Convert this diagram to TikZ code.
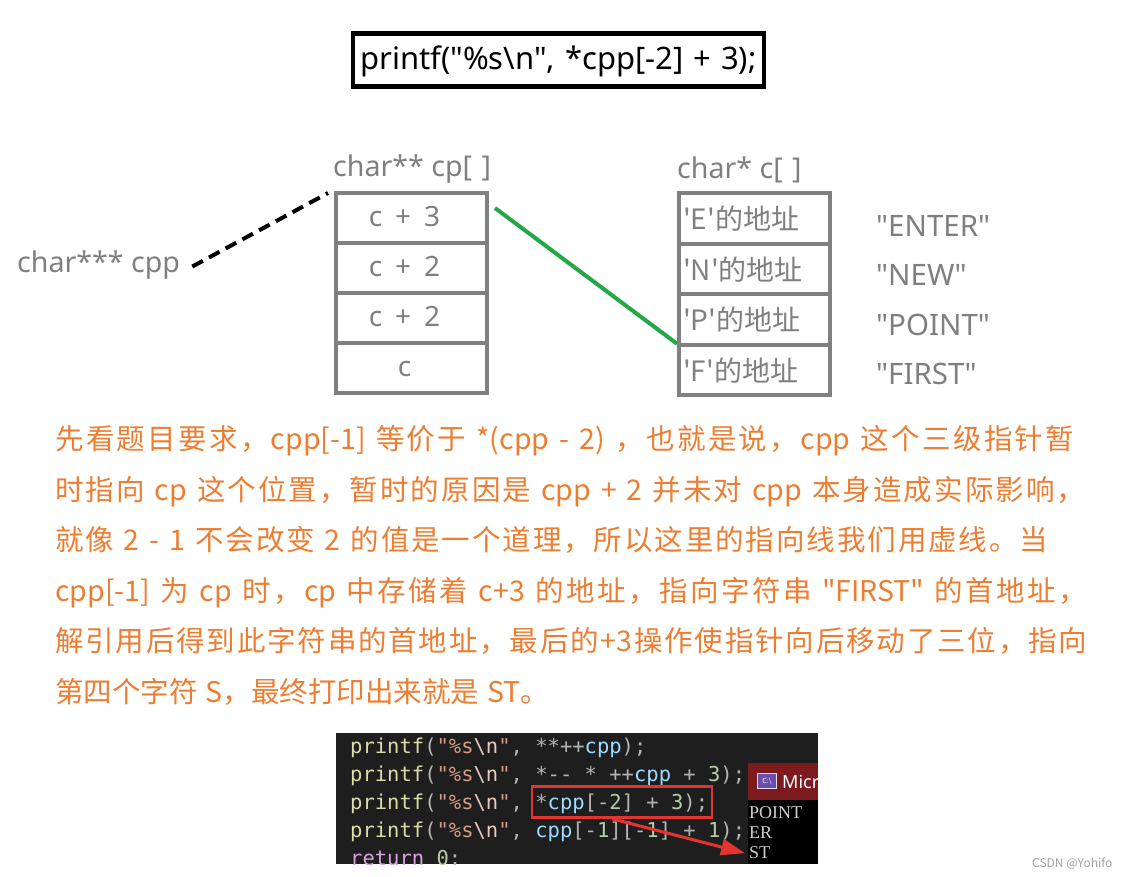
\documentclass[tikz,border=0pt]{standalone}
\usepackage{fontspec}
\newfontfamily\yh{Noto Sans CJK SC}[Ligatures=TeXOff]
\newfontfamily\la{Noto Sans}[Ligatures=TeXOff]
\newfontfamily\cmono{DejaVu Sans Mono}[Ligatures=TeXOff]
\newfontfamily\cserif{Liberation Serif}[Ligatures=TeXOff]
\usetikzlibrary{arrows.meta}
\definecolor{lbl}{HTML}{7F7F7F}
\definecolor{cellb}{HTML}{808080}
\definecolor{orng}{HTML}{ED7D31}
\definecolor{grn}{HTML}{22A846}
\definecolor{codebg}{HTML}{1E1E1E}
\definecolor{cfn}{HTML}{DCDCAA}
\definecolor{cop}{HTML}{B4B4B4}
\definecolor{cstr}{HTML}{D69D85}
\definecolor{cesc}{HTML}{E8C9BB}
\definecolor{cvar}{HTML}{9CDCFE}
\definecolor{cnum}{HTML}{B5CEA8}
\definecolor{ckw}{HTML}{D8A0DF}
\definecolor{hired}{HTML}{E3342F}
\definecolor{conred}{HTML}{7D1A1F}
\definecolor{conicon}{HTML}{6A4FA8}
\definecolor{contxt}{HTML}{CCCCCC}
\definecolor{wm}{HTML}{A0A0A0}
\newcommand\Fn[1]{\textcolor{cfn}{#1}}
\newcommand\Op[1]{\textcolor{cop}{#1}}
\newcommand\St[1]{\textcolor{cstr}{#1}}
\newcommand\Es[1]{\textcolor{cesc}{#1}}
\newcommand\Va[1]{\textcolor{cvar}{#1}}
\newcommand\Nu[1]{\textcolor{cnum}{#1}}
\newcommand\Kw[1]{\textcolor{ckw}{#1}}
\newcommand\Pf{\Fn{printf}\Op{(}\St{"\%s}\Es{\textbackslash n}\St{"}}
\newcommand\gp{\hspace{2pt}}
% inter-character stretch for justified CJK lines
\newXeTeXintercharclass\myCJK
\newXeTeXintercharclass\myPunct
\makeatletter
\count@="4E00
\loop
  \XeTeXcharclass\count@=\myCJK
  \advance\count@ by 1
\ifnum\count@<"A000 \repeat
\makeatother
\XeTeXcharclass"3002=\myPunct
\XeTeXcharclass"FF0C=\myPunct
\XeTeXinterchartoks\myCJK\myCJK = {\hskip 0pt plus 1fil\relax}
\XeTeXinterchartoks\myCJK\myPunct = {\hskip 0pt plus 1fil\relax}
\XeTeXinterchartoks\myPunct\myCJK = {\hskip 0pt plus 1fil\relax}
\XeTeXinterchartoks 0 \myCJK = {\hskip 0pt plus 1fil\relax}
\XeTeXinterchartoks\myCJK 0 = {\hskip 0pt plus 1fil\relax}
\XeTeXinterchartoks\myPunct 0 = {\hskip 0pt plus 1fil\relax}
\XeTeXinterchartoks 0 \myPunct = {\hskip 0pt plus 1fil\relax}
\newcommand\jline[2]{\hbox to #1{\spaceskip=8pt plus 1fil\relax\XeTeXinterchartokenstate=1 #2\XeTeXinterchartokenstate=0 }}
\newcommand\nline[1]{\hbox{\spaceskip=8pt\relax\XeTeXinterchartokenstate=0 #1}}
\tikzset{
  x=1pt, y=-1pt,
  lbltxt/.style={font=\la\fontsize{28.6}{32}\selectfont, text=lbl, inner sep=0pt, anchor=base west},
  strtxt/.style={font=\la\fontsize{29.5}{32}\selectfont, text=lbl, inner sep=0pt, anchor=base west},
  cpcell/.style={draw=cellb, line width=4pt, minimum width=151pt, minimum height=50pt,
    inner sep=0pt, font=\la\fontsize{28}{32}\selectfont, text=lbl, text height=20pt, text depth=4pt},
  ccell/.style={draw=cellb, line width=4pt, minimum width=151pt, minimum height=50.5pt,
    inner sep=0pt, font=\yh\fontsize{28}{32}\selectfont, text=lbl, text height=24pt, text depth=2pt,
    text width=143pt, align=left},
  para/.style={font=\yh\fontsize{28.5}{32}\selectfont, text=orng, inner sep=0pt, anchor=base west},
  codeln/.style={font=\cmono\fontsize{20.5}{24}\selectfont, inner sep=0pt, anchor=base west},
  conln/.style={font=\cserif\fontsize{18}{20}\selectfont, text=contxt, inner sep=0pt, anchor=base west},
}
\begin{document}
\begin{tikzpicture}
\useasboundingbox (0,0) rectangle (1124,876);
% top formula box
\node[draw=black, line width=4.5pt, minimum width=411pt, minimum height=53pt, inner sep=0pt,
  font=\la\fontsize{31}{32}\selectfont, text height=21pt, text depth=3pt] (formula) at (558.5,60)
  {printf("\%s\textbackslash n",\gp{} *cpp[-2]\gp{} +\gp{} 3);};
% labels
\node[lbltxt] (cplbl) at (333,176) {char** cp[\gp{} ]};
\node[lbltxt] (clbl) at (677,178) {char* c[\gp{} ]};
\node[lbltxt] (cpp) at (17,272) {char*** cpp};
% cp array
\node[cpcell] (cp1) at (411.5,218) {c\hspace{13pt}+\hspace{13pt}3\hspace*{14pt}};
\node[cpcell] (cp2) at (411.5,268) {c\hspace{13pt}+\hspace{13pt}2\hspace*{14pt}};
\node[cpcell] (cp3) at (411.5,318) {c\hspace{13pt}+\hspace{13pt}2\hspace*{14pt}};
\node[cpcell] (cp4) at (411.5,368) {c\hspace*{14pt}};
% c array
\node[ccell] (c1) at (754.5,218.5) {'E'的地址};
\node[ccell] (c2) at (754.5,269) {'N'的地址};
\node[ccell] (c3) at (754.5,319.5) {'P'的地址};
\node[ccell] (c4) at (754.5,370) {'F'的地址};
% strings
\node[strtxt] (s1) at (876,236) {"ENTER"};
\node[strtxt] (s2) at (876,285) {"NEW"};
\node[strtxt] (s3) at (876,335) {"POINT"};
\node[strtxt] (s4) at (876,384) {"FIRST"};
% connectors
\draw[line width=4pt, dash pattern=on 12pt off 7pt] ([xshift=12pt,yshift=-2pt]cpp.east) -- ([xshift=-6pt,yshift=-2pt]cp1.north west);
\draw[grn, line width=4pt] ([xshift=6pt,yshift=10pt]cp1.east) -- ([yshift=-1pt]c4.north west);
% paragraph
\node[para] (p1) at (55,449) {\jline{1019pt}{先看题目要求，cpp[-1] 等价于 *(cpp - 2) ，也就是说，cpp 这个三级指针暂}};
\node[para] (p2) at (55,500) {\jline{1030pt}{时指向 cp 这个位置，暂时的原因是 cpp + 2 并未对 cpp 本身造成实际影响，}};
\node[para] (p3) at (55,550) {\jline{993pt}{就像 2 - 1 不会改变 2 的值是一个道理，所以这里的指向线我们用虚线。当}};
\node[para] (p4) at (55,601) {\jline{1032pt}{cpp[-1] 为 cp 时，cp 中存储着 c+3 的地址，指向字符串 "FIRST" 的首地址，}};
\node[para] (p5) at (55,651) {\jline{1032pt}{解引用后得到此字符串的首地址，最后的+3操作使指针向后移动了三位，指向}};
\node[para] (p6) at (55,702) {\nline{第四个字符 S，最终打印出来就是 ST。}};
% code screenshot
\fill[codebg] (336,733) rectangle (818,864);
\begin{scope}
\clip (336,733) rectangle (818,864);
\node[codeln] (l1) at (350,753) {\Pf\Op{, **++}\Va{cpp}\Op{);}};
\node[codeln] (l2) at (350,781) {\Pf\Op{, *-{}- * ++}\Va{cpp} \Op{+ }\Nu{3}\Op{);}};
\node[codeln] (l3) at (350,809) {\Pf\Op{, *}\Va{cpp}\Op{[-}\Nu{2}\Op{] + }\Nu{3}\Op{);}};
\node[codeln] (l4) at (350,837) {\Pf\Op{, }\Va{cpp}\Op{[-}\Nu{1}\Op{][-}\Nu{1}\Op{] + }\Nu{1}\Op{);}};
\node[codeln] (l5) at (350,865) {\Kw{return} \Nu{0}\Op{;}};
\end{scope}
% console window
\begin{scope}
\clip (748,763) rectangle (818,864);
\fill[black] (748,763) rectangle (818,864);
\fill[conred] (748,763) rectangle (818,800);
\node[fill=conicon, draw=white!80!conicon, line width=0.6pt, minimum width=19pt, minimum height=15pt, inner sep=0pt,
  font=\yh\fontsize{7}{8}\selectfont, text=white] (icon) at (767,781) {C:\textbackslash};
\node[font=\la\fontsize{18}{20}\selectfont, text=white, inner sep=0pt, anchor=base west] (micro) at (782,788) {Microsoft};
\node[conln] (o1) at (749,818) {POINT};
\node[conln] (o2) at (749,838) {ER};
\node[conln] (st) at (749,858) {ST};
\end{scope}
% highlight and arrow
\node[draw=hired, line width=2.5pt, minimum width=180pt, minimum height=31pt, inner sep=0pt] (hl) at (622,802) {};
\draw[hired, line width=3pt, -{Triangle[length=24pt, width=16pt]}] ([xshift=-10pt]hl.south) -- ([xshift=-4pt,yshift=-1pt]st.west);
% watermark
\node[font=\yh\fontsize{12}{14}\selectfont, text=wm, inner sep=0pt, anchor=base west] (wmk) at (1032,867) {CSDN @Yohifo};
\end{tikzpicture}
\end{document}
